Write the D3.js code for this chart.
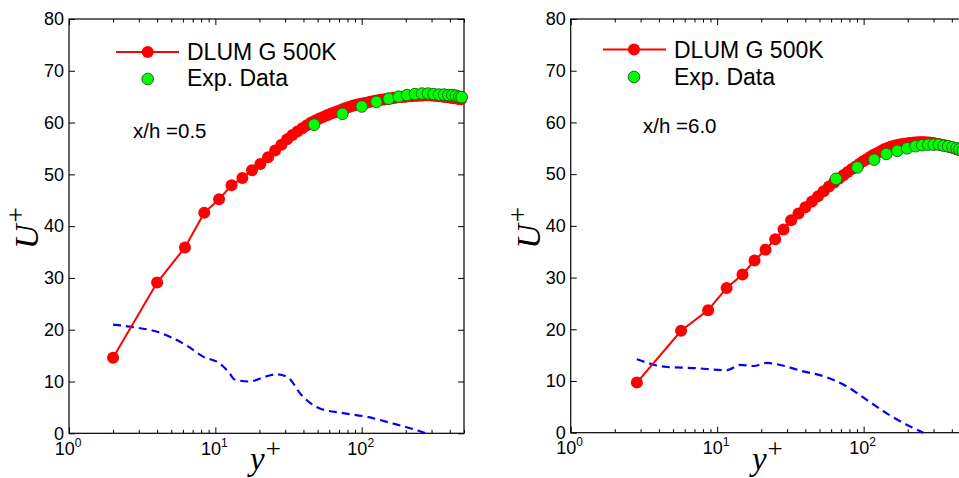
<!DOCTYPE html>
<html>
<head>
<meta charset="utf-8">
<script src="https://cdn.jsdelivr.net/npm/d3@7"></script>
<style>
  html, body { margin: 0; padding: 0; background: #fff; }
  svg { display: block; }
  text { font-family: "Liberation Sans", Arial, Helvetica, sans-serif; fill: #000; }
  .math { font-family: "Liberation Serif", "Times New Roman", serif; }
</style>
</head>
<body>
<svg id="chart" width="959" height="478"></svg>
<script>
// ---- axis ticks ----
const yTickValues = [0, 10, 20, 30, 40, 50, 60, 70, 80];
const xMajorTicks = [1, 10, 100];
const xMajorExponents = ["0", "1", "2"];
const xMinorTicks = [2, 3, 4, 5, 6, 7, 8, 9, 20, 30, 40, 50, 60, 70, 80, 90, 200, 300, 400, 500];

const legendLabels = ["DLUM G 500K", "Exp. Data"];
const stationLabels = ["x/h =0.5", "x/h =6.0"];

// ---- station x/h = 0.5 ----
const leftSimY = [2.0, 4.0, 6.2, 8.4, 10.6, 12.9, 15.3, 17.8, 20.3, 22.9, 25.6, 28.3, 30.9, 33.6, 36.4, 39.3,
  42.2, 45.2, 48.3, 51.4, 54.6, 57.9, 61.3, 64.8, 68.4, 72.1, 75.9, 79.8, 83.8, 87.9, 92.1, 96.4, 100.8,
  105.3, 109.9, 114.6, 119.4, 124.3, 129.3, 134.4, 139.6, 144.9, 150.3, 155.8, 161.4, 167.1, 172.9, 178.8,
  184.8, 190.9, 197.1, 203.4, 209.8, 216.3, 222.9, 229.6, 236.4, 243.3, 250.3, 257.4, 264.6, 271.9, 279.3,
  286.8, 294.4, 302.1, 309.9, 317.8, 325.8, 333.9, 342.1, 350.4, 358.8, 367.3, 375.9, 384.6, 393.4, 402.3,
  411.3, 420.4, 429.6, 438.9, 448.3, 457.8, 467.4, 477.1];
const leftSimU = [14.6, 29.1, 35.9, 42.6, 45.2, 47.9, 49.3, 50.8, 52.0, 53.3, 54.6, 55.7, 56.8, 57.6, 58.3, 58.9,
  59.5, 60.0, 60.4, 60.8, 61.1, 61.4, 61.7, 61.95, 62.2, 62.45, 62.7, 62.9, 63.1, 63.3, 63.45, 63.6, 63.7,
  63.8, 63.9, 64.0, 64.1, 64.2, 64.3, 64.4, 64.45, 64.5, 64.6, 64.65, 64.7, 64.8, 64.85, 64.9,
  64.95, 65.0, 65.0, 65.05, 65.1, 65.1, 65.15, 65.2, 65.2, 65.25, 65.25, 65.25, 65.3, 65.3, 65.3,
  65.3, 65.3, 65.25, 65.25, 65.2, 65.2, 65.15, 65.1, 65.1, 65.05, 65.0, 65.0, 64.95, 64.9, 64.85,
  64.8, 64.8, 64.75, 64.7, 64.65, 64.6, 64.55, 64.5];
const leftExpY = [47.3, 73.8, 100, 126, 153, 179, 204, 231, 258, 284, 310, 337, 365, 391, 416, 440, 464, 482];
const leftExpU = [59.6, 61.7, 63.1, 64.0, 64.6, 65.0, 65.3, 65.5, 65.6, 65.6, 65.5, 65.4, 65.4, 65.3, 65.3, 65.2, 65.0, 64.9];
const leftDashY = [2.0, 2.75, 4.0, 6.4, 8.25, 10.7, 12.5, 13.5, 17.2, 21.2, 26.2, 31.3, 38.7, 51.7, 74.7, 107.6, 163, 225, 276];
const leftDashU = [21.0, 20.5, 19.6, 16.9, 14.8, 13.5, 11.6, 10.4, 10.0, 10.8, 11.4, 10.8, 7.4, 4.8, 3.9, 3.2, 1.9, 0.8, 0.0];

// ---- station x/h = 6.0 ----
const rightSimY = [2.83, 5.67, 8.68, 11.6, 14.9, 18.0, 21.4, 24.9, 28.4, 32.0, 35.9, 40.0, 44.4, 48.8, 53.3,
  58.0, 62.8, 67.7, 72.7, 77.8, 83.0, 88.3, 93.7, 99.2, 104.8, 110.5, 116.3, 122.2, 128.2, 134.3, 140.5,
  146.8, 153.2, 159.7, 166.3, 173.0, 179.8, 186.7, 193.7, 200.8, 208.0, 215.3, 222.7, 230.2, 237.8, 245.5,
  253.3, 261.2, 269.2, 277.3, 285.5, 293.8, 302.2, 310.7, 319.3, 328.0, 336.8, 345.7, 354.7, 363.8, 373.0,
  382.3, 391.7, 401.2, 410.8, 420.5, 430.3, 440.2, 450.2, 460.3, 470.5, 480.8];
const rightSimU = [9.7, 19.7, 23.7, 28.0, 30.6, 33.3, 35.4, 37.4, 39.3, 41.1, 42.4, 43.6, 44.7, 45.7, 46.7,
  47.6, 48.4, 49.1, 49.8, 50.4, 51.0, 51.5, 52.0, 52.5, 52.9, 53.3, 53.7, 54.0, 54.3, 54.6, 54.9,
  55.1, 55.3, 55.45, 55.6, 55.7, 55.8, 55.85, 55.9, 55.95, 56.0, 56.05, 56.1, 56.1, 56.15, 56.15,
  56.15, 56.15, 56.1, 56.1, 56.05, 56.0, 55.95, 55.9, 55.85, 55.8, 55.7, 55.65, 55.6, 55.5, 55.4,
  55.3, 55.25, 55.15, 55.05, 54.95, 54.85, 54.75, 54.65, 54.55, 54.45, 54.35];
const rightExpY = [64.8, 90.6, 118, 143, 170, 198, 226, 251, 276, 301, 326, 352, 377, 404, 430, 451, 476, 500];
const rightExpU = [49.1, 51.3, 52.8, 53.9, 54.5, 55.0, 55.4, 55.6, 55.7, 55.7, 55.7, 55.5, 55.4, 55.2, 55.0, 54.8, 54.6, 54.3];
const rightDashY = [2.83, 4.53, 6.89, 11.7, 14.3, 17.7, 21.9, 27.0, 37.0, 56.2, 77.2, 105.5, 144.5, 198, 256];
const rightDashU = [14.2, 12.7, 12.5, 12.1, 13.1, 12.9, 13.5, 13.1, 12.0, 10.7, 8.9, 6.3, 3.7, 1.5, 0.0];

// ---- layout of the two panels ----
const panels = [
  { left: 69, right: 464, top: 19, bottom: 433.3,
    sim: [leftSimY, leftSimU], exp: [leftExpY, leftExpU], dash: [leftDashY, leftDashU],
    station: stationLabels[0], stationX: 133, stationY: 138,
    legLine: [116, 179], legY1: 52, legY2: 79, legMarkX: 147.7, legTextX: 187, legBase1: 60, legBase2: 86 },
  { left: 570.7, right: 966, top: 19, bottom: 432.7,
    sim: [rightSimY, rightSimU], exp: [rightExpY, rightExpU], dash: [rightDashY, rightDashU],
    station: stationLabels[1], stationX: 643, stationY: 133.3,
    legLine: [603, 666], legY1: 49.5, legY2: 77, legMarkX: 634, legTextX: 674, legBase1: 58, legBase2: 85 }
];

const svg = d3.select("#chart");
svg.append("rect").attr("width", 959).attr("height", 478).attr("fill", "#fff");

const zip = (a, b) => a.map((v, i) => [v, b[i]]);

panels.forEach(p => {
  const x = d3.scaleLog().domain([1, 500]).range([p.left, p.right]);
  const y = d3.scaleLinear().domain([0, 80]).range([p.bottom, p.top]);
  const g = svg.append("g");

  // frame
  g.append("rect")
    .attr("x", p.left).attr("y", p.top)
    .attr("width", p.right - p.left).attr("height", p.bottom - p.top)
    .attr("fill", "none").attr("stroke", "#000").attr("stroke-width", 1.2);

  const styleAxis = sel => {
    sel.select(".domain").remove();
    sel.selectAll(".tick line").attr("stroke", "#000").attr("stroke-width", 1);
  };

  // x axis: major + minor ticks, bottom and top, pointing inward
  g.append("g").attr("transform", `translate(0,${p.bottom})`)
    .call(d3.axisBottom(x).tickValues(xMajorTicks).tickSize(-6).tickFormat(""))
    .call(styleAxis);
  g.append("g").attr("transform", `translate(0,${p.bottom})`)
    .call(d3.axisBottom(x).tickValues(xMinorTicks).tickSize(-3.5).tickFormat(""))
    .call(styleAxis);
  g.append("g").attr("transform", `translate(0,${p.top})`)
    .call(d3.axisTop(x).tickValues(xMajorTicks).tickSize(-6).tickFormat(""))
    .call(styleAxis);
  g.append("g").attr("transform", `translate(0,${p.top})`)
    .call(d3.axisTop(x).tickValues(xMinorTicks).tickSize(-3.5).tickFormat(""))
    .call(styleAxis);

  // x tick labels as powers of ten
  xMajorTicks.forEach((v, i) => {
    const t = g.append("text")
      .attr("x", x(v) - 1).attr("y", p.bottom + 21.5)
      .attr("text-anchor", "middle").attr("font-size", 18);
    t.append("tspan").text("10");
    t.append("tspan").attr("font-size", 12).attr("dy", -8).text(xMajorExponents[i]);
  });

  // y axis: left with labels, right mirrored ticks
  g.append("g").attr("transform", `translate(${p.left},0)`)
    .call(d3.axisLeft(y).tickValues(yTickValues).tickSize(-6).tickPadding(5))
    .call(styleAxis)
    .call(s => s.selectAll(".tick text")
      .attr("font-size", 18).attr("fill", "#000")
      .attr("font-family", "'Liberation Sans', Arial, Helvetica, sans-serif"));
  g.append("g").attr("transform", `translate(${p.right},0)`)
    .call(d3.axisRight(y).tickValues(yTickValues).tickSize(-6).tickFormat(""))
    .call(styleAxis);

  // axis titles
  const yl = g.append("text").attr("class", "math")
    .attr("transform", `translate(${p.left - 31},${(p.top + p.bottom) / 2 + 2}) rotate(-90)`)
    .attr("text-anchor", "middle").attr("font-size", 34);
  yl.append("tspan").attr("font-style", "italic").text("U");
  yl.append("tspan").attr("font-size", 27).attr("dy", -13).attr("dx", 2).text("+");

  const xl = g.append("text").attr("class", "math")
    .attr("x", (p.left + p.right) / 2 - 1).attr("y", 470)
    .attr("text-anchor", "middle").attr("font-size", 33);
  xl.append("tspan").attr("font-style", "italic").text("y");
  xl.append("tspan").attr("font-size", 27).attr("dy", -12).attr("dx", 1).text("+");

  // blue dashed profile
  const line = d3.line().x(d => x(d[0])).y(d => y(d[1]));
  g.append("path")
    .datum(zip(p.dash[0], p.dash[1]))
    .attr("d", line.curve(d3.curveMonotoneX))
    .attr("fill", "none").attr("stroke", "#0000ff")
    .attr("stroke-width", 2.2).attr("stroke-dasharray", "8,5");

  // simulation: red line with markers
  const sim = zip(p.sim[0], p.sim[1]);
  g.append("path")
    .datum(sim)
    .attr("d", d3.line().x(d => x(d[0])).y(d => y(d[1])))
    .attr("fill", "none").attr("stroke", "#ff0000").attr("stroke-width", 2);
  g.append("g").selectAll("circle").data(sim).join("circle")
    .attr("cx", d => x(d[0])).attr("cy", d => y(d[1])).attr("r", 6)
    .attr("fill", "#ff0000");

  // experiment: green circles
  g.append("g").selectAll("circle").data(zip(p.exp[0], p.exp[1])).join("circle")
    .attr("cx", d => x(d[0])).attr("cy", d => y(d[1])).attr("r", 5.8)
    .attr("fill", "#00ff00").attr("stroke", "#1d6a1d").attr("stroke-width", 1);

  // legend
  g.append("line")
    .attr("x1", p.legLine[0]).attr("x2", p.legLine[1])
    .attr("y1", p.legY1).attr("y2", p.legY1)
    .attr("stroke", "#ff0000").attr("stroke-width", 2);
  g.append("circle").attr("cx", p.legMarkX).attr("cy", p.legY1).attr("r", 6).attr("fill", "#ff0000");
  g.append("circle").attr("cx", p.legMarkX).attr("cy", p.legY2).attr("r", 5.8)
    .attr("fill", "#00ff00").attr("stroke", "#1d6a1d").attr("stroke-width", 1);
  g.append("text").attr("x", p.legTextX).attr("y", p.legBase1).attr("font-size", 23).text(legendLabels[0]);
  g.append("text").attr("x", p.legTextX).attr("y", p.legBase2).attr("font-size", 23).text(legendLabels[1]);

  // station label
  g.append("text").attr("x", p.stationX).attr("y", p.stationY).attr("font-size", 20.5).text(p.station);
});
</script>
</body>
</html>
